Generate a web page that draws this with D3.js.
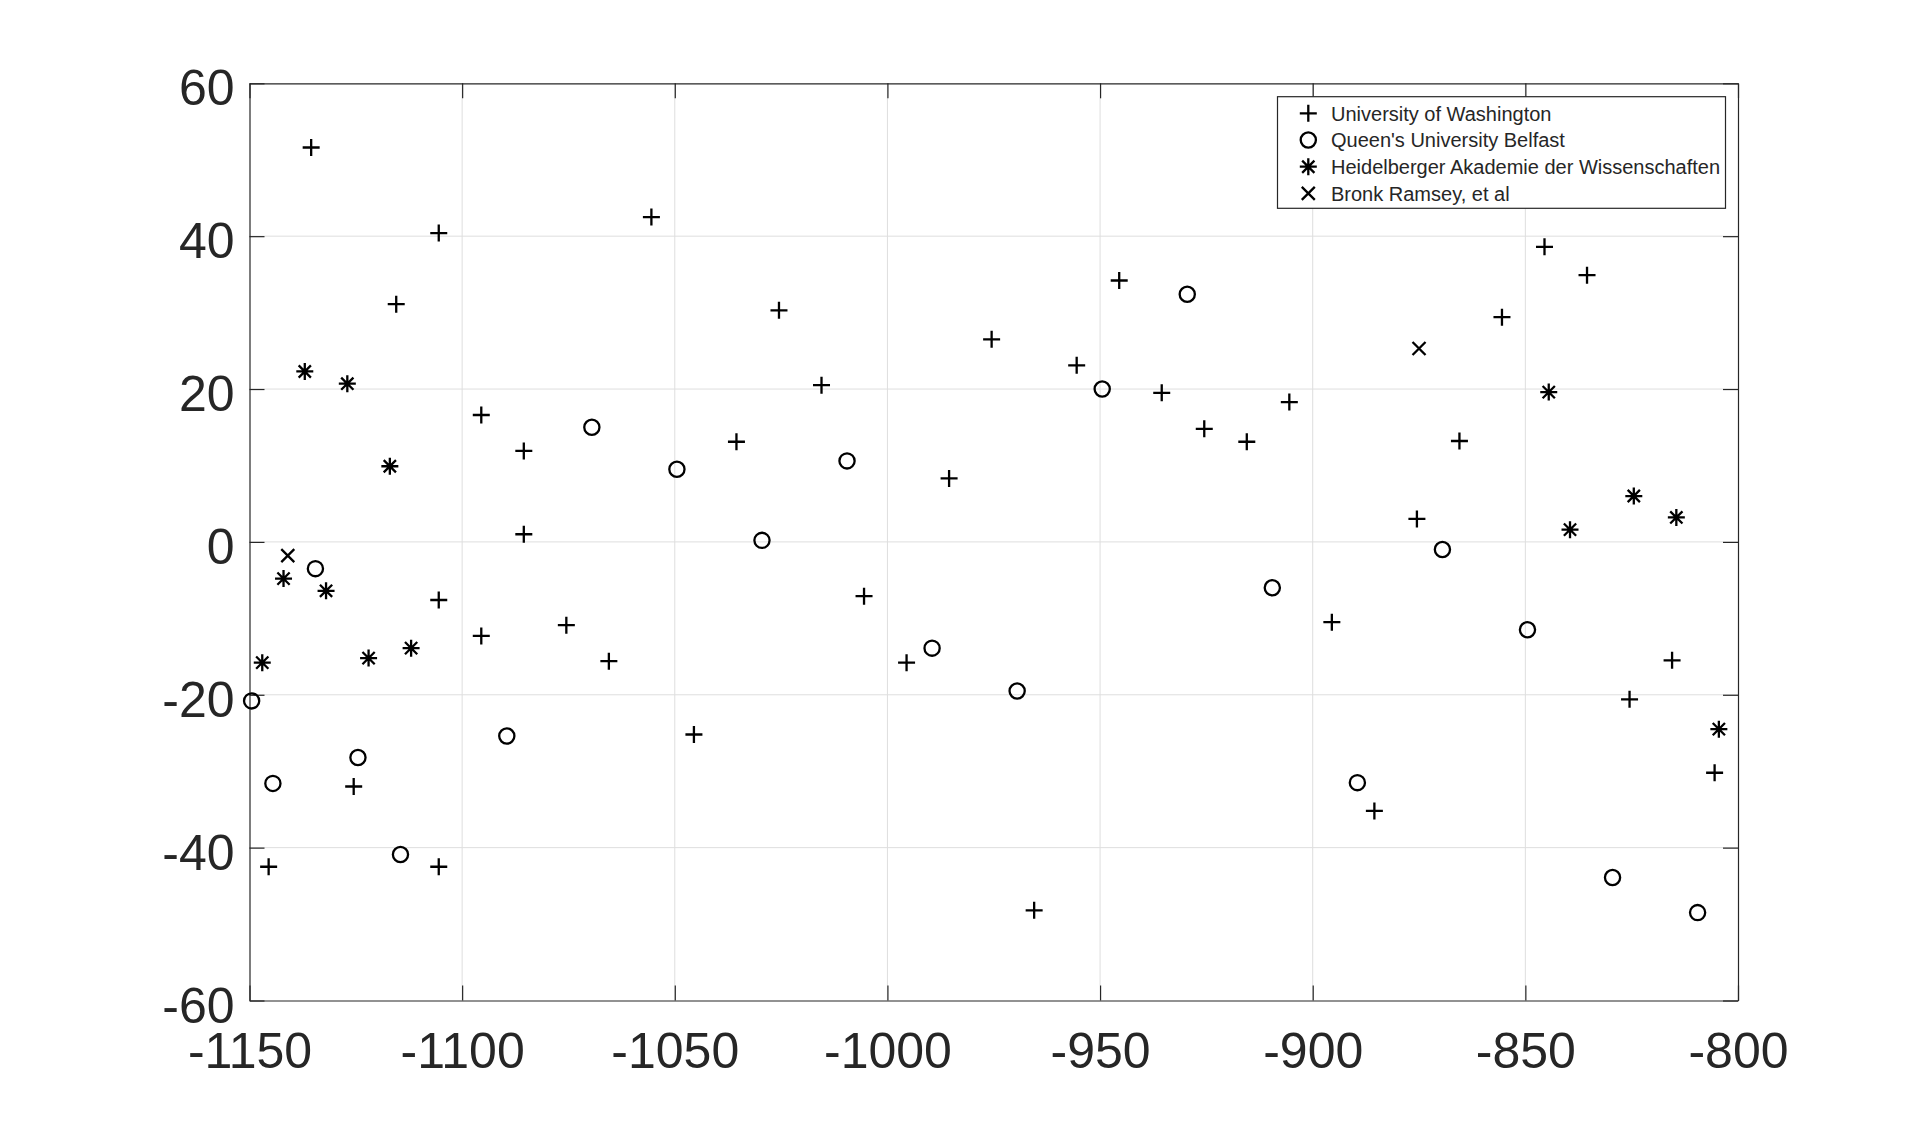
<!DOCTYPE html>
<html>
<head>
<meta charset="utf-8">
<script src="https://d3js.org/d3.v7.min.js"></script>
<style>
  body { margin: 0; background: #fff; }
  text { font-family: Arial, "Liberation Sans", Helvetica, sans-serif; fill: #262626; }
</style>
</head>
<body>
<script>
    // x ticks / y ticks
    var xTicks = [-1150, -1100, -1050, -1000, -950, -900, -850, -800];
    var yTicks = [-60, -40, -20, 0, 20, 40, 60];

    // University of Washington (+)
    var uwX = [-1145.5, -1135.5, -1125.5, -1115.5, -1105.5, -1105.5, -1105.5, -1095.5, -1095.5,
        -1085.5, -1085.5, -1075.5, -1065.5, -1055.5, -1045.5, -1035.5, -1025.5, -1015.5,
        -1005.5, -995.5, -985.5, -975.5, -965.5, -955.5, -945.5, -935.5, -925.5, -915.5,
        -905.5, -895.5, -885.5, -875.5, -865.5, -855.5, -845.5, -835.5, -825.5, -815.5, -805.5];
    var uwY = [-42.5, 51.6, -32.0, 31.1, 40.4, -7.6, -42.5, 16.6, -12.3,
        11.9, 1.0, -10.9, -15.6, 42.5, -25.2, 13.1, 30.3, 20.5,
        -7.1, -15.8, 8.3, 26.5, -48.2, 23.1, 34.2, 19.5, 14.8, 13.1,
        18.3, -10.5, -35.2, 3.0, 13.2, 29.4, 38.6, 34.9, -20.6, -15.5, -30.2];

    // Queen's University Belfast (o)
    var qubX = [-1149.5, -1144.5, -1134.5, -1124.5, -1114.5, -1089.5, -1069.5, -1049.5, -1029.5, -1009.5,
        -989.5, -969.5, -949.5, -929.5, -909.5, -889.5, -869.5, -849.5, -829.5, -809.5];
    var qubY = [-20.8, -31.6, -3.5, -28.2, -40.9, -25.4, 15.0, 9.5, 0.2, 10.6,
        -13.9, -19.5, 20.0, 32.4, -6.0, -31.5, -1.0, -11.5, -43.9, -48.5];

    // Heidelberger Akademie der Wissenschaften (*)
    var hadwX = [-1147, -1142, -1137, -1132, -1127, -1122, -1117, -1112, -844.5, -839.5, -824.5, -814.5, -804.5];
    var hadwY = [-15.8, -4.8, 22.3, -6.4, 20.7, -15.2, 9.9, -13.9, 19.6, 1.6, 6.0, 3.2, -24.5];

    // Bronk Ramsey, et al (x)
    var brX = [-1141, -875];
    var brY = [-1.8, 25.3];

    var seriesNames = ["University of Washington", "Queen's University Belfast",
        "Heidelberger Akademie der Wissenschaften", "Bronk Ramsey, et al"];

    var W = 1920, H = 1124;
    var plotL = 249.5, plotR = 1738, plotT = 83.3, plotB = 1000.5;

    var x = d3.scaleLinear().domain([-1150, -800]).range([plotL, plotR]);
    var y = d3.scaleLinear().domain([-60, 60]).range([plotB, plotT]);

    // marker path generators (centred at 0,0)
    function plusPath(s) { return "M" + (-s) + ",0H" + s + "M0," + (-s) + "V" + s; }
    function crossPath(s) { return "M" + (-s) + "," + (-s) + "L" + s + "," + s + "M" + (-s) + "," + s + "L" + s + "," + (-s); }
    function starPath(s) { var d = s * 0.72; return plusPath(s) + crossPath(d); }
    function circlePath(r) { return "M" + r + ",0A" + r + "," + r + " 0 1,1 " + (-r) + ",0A" + r + "," + r + " 0 1,1 " + r + ",0Z"; }

    var svg = d3.select("body").append("svg")
        .attr("width", W)
        .attr("height", H);

    // grid
    var grid = svg.append("g").attr("stroke", "#dedede").attr("stroke-width", 1);
    grid.selectAll(".gx").data(xTicks.slice(1, -1)).enter().append("line")
        .attr("x1", d => x(d)).attr("x2", d => x(d))
        .attr("y1", plotT).attr("y2", plotB);
    grid.selectAll(".gy").data(yTicks.slice(1, -1)).enter().append("line")
        .attr("x1", plotL).attr("x2", plotR)
        .attr("y1", d => y(d)).attr("y2", d => y(d));

    // axes (ticks inward on all four sides)
    var tk = 15;
    var ax = svg.append("g");
    var xAx = ax.append("g").attr("transform", "translate(0," + plotB + ")")
        .call(d3.axisBottom(x).tickValues(xTicks).tickSizeInner(-tk).tickSizeOuter(0).tickPadding(32).tickFormat(d3.format("d")));
    ax.append("g").attr("transform", "translate(0," + plotT + ")")
        .call(d3.axisTop(x).tickValues(xTicks).tickSizeInner(-tk).tickSizeOuter(0).tickFormat(""));
    var yAx = ax.append("g").attr("transform", "translate(" + plotL + ",0)")
        .call(d3.axisLeft(y).tickValues(yTicks).tickSizeInner(-tk).tickSizeOuter(0).tickPadding(15).tickFormat(d3.format("d")));
    ax.append("g").attr("transform", "translate(" + plotR + ",0)")
        .call(d3.axisRight(y).tickValues(yTicks).tickSizeInner(-tk).tickSizeOuter(0).tickFormat(""));
    ax.selectAll(".domain").attr("stroke", "#262626").attr("stroke-width", 1.2);
    ax.selectAll(".tick line").attr("stroke", "#262626").attr("stroke-width", 1.2);
    ax.selectAll(".tick text")
        .style("font-size", "50px")
        .attr("fill", "#262626")
        .text(function () { return this.textContent.replace("\u2212", "-"); });
    yAx.selectAll(".tick text").attr("dy", "0.43em");

    // data
    var series = [
        { xs: uwX, ys: uwY, path: plusPath(8.5) },
        { xs: qubX, ys: qubY, path: circlePath(7.6) },
        { xs: hadwX, ys: hadwY, path: starPath(8.5) },
        { xs: brX, ys: brY, path: crossPath(6.5) }
    ];
    var marks = svg.append("g").attr("fill", "none").attr("stroke", "#000").attr("stroke-width", 2.3);
    series.forEach(function (s, k) {
        marks.selectAll(".m" + k)
            .data(s.xs.map(function (v, i) { return { x: v, y: s.ys[i] }; }))
            .enter().append("path")
            .attr("d", s.path)
            .attr("transform", d => "translate(" + x(d.x) + "," + y(d.y) + ")");
    });

    // legend
    var lg = svg.append("g").attr("transform", "translate(1277.5,96.7)");
    lg.append("rect").attr("width", 448).attr("height", 111.6)
        .attr("fill", "#fff").attr("stroke", "#262626").attr("stroke-width", 1.2);
    seriesNames.forEach(function (nm, i) {
        var row = lg.append("g").attr("transform", "translate(0," + (16.6 + i * 26.7) + ")");
        row.append("path").attr("d", series[i].path).attr("transform", "translate(30.8,0)")
            .attr("fill", "none").attr("stroke", "#000").attr("stroke-width", 2.3);
        row.append("text").attr("x", 53.5).attr("dy", "0.36em")
            .style("font-size", "20px").attr("fill", "#000").text(nm);
    });
</script>
</body>
</html>
